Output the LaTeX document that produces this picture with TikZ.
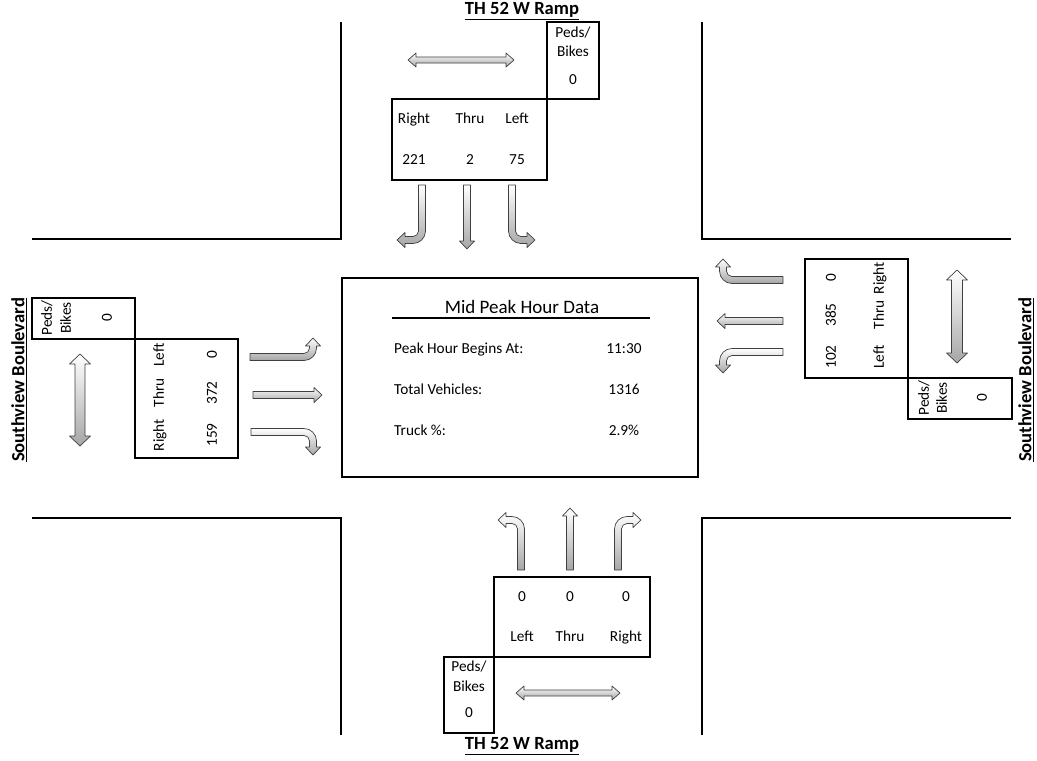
\documentclass[tikz,border=0pt]{standalone}
\usepackage{fontspec}
\setmainfont{Carlito}
\def\aw{3.5}\def\ah{7.5}\def\aL{8}\def\ar{9}
\def\kA{3.04}\def\kB{6.9}
\newcommand\turnarrow[3]{%
 \begin{scope}[#1]
  \path[fat] (-\aw,0) -- (-\aw,#2-\ar) .. controls (-\aw,#2-\ar+\kA) and (-\ar+\kA,#2-\aw) .. (-\ar,#2-\aw) -- (-#3+\aL,#2-\aw) -- (-#3+\aL,#2-\ah) -- (-#3,#2) -- (-#3+\aL,#2+\ah) -- (-#3+\aL,#2+\aw) -- (-\ar,#2+\aw) .. controls (-\ar+\kB,#2+\aw) and (\aw,#2-\ar+\kB) .. (\aw,#2-\ar) -- (\aw,0) -- cycle;
 \end{scope}}
\newcommand\strarrow[2]{%
 \begin{scope}[#1]
  \path[fat] (-\aw,0) -- (-\aw,#2-\aL) -- (-\ah,#2-\aL) -- (0,#2) -- (\ah,#2-\aL) -- (\aw,#2-\aL) -- (\aw,0) -- cycle;
 \end{scope}}
\newcommand\dblarrow[5]{%
 \begin{scope}[#1]
  \path[fat] (-#3,#5) -- (-#4,#5) -- (0,0) -- (#4,#5) -- (#3,#5) -- (#3,#2-#5) -- (#4,#2-#5) -- (0,#2) -- (-#4,#2-#5) -- (-#3,#2-#5) -- cycle;
 \end{scope}}
\begin{document}
\begin{tikzpicture}[x=1pt,y=-1pt,
  road/.style={line width=2pt},
  box/.style={draw, line width=2pt},
  txt/.style={font=\fontsize{15.3}{17}\selectfont, inner sep=0pt, text height=10pt, text depth=2.5pt},
  big/.style={font=\fontsize{19}{22}\selectfont, inner sep=0pt},
  lbl/.style={font=\fontsize{18.6}{21}\selectfont\bfseries, inner sep=0pt},
  fat/.style={draw=black!75, line width=0.7pt, top color=white, bottom color=black!35, line join=round}]
\useasboundingbox (0,0) rectangle (1037,761);
% roads
\draw[road] (32,239) -- (341,239) -- (341,22);
\draw[road] (702,22) -- (702,239) -- (1011,239);
\draw[road] (32,518) -- (341,518) -- (341,735);
\draw[road] (702,735) -- (702,518) -- (1011,518);
% boxes
\draw[box] (392,99) rectangle (547,180);
\draw[box] (547,22) rectangle (599,99);
\draw[box] (494,577) rectangle (650,657);
\draw[box] (444,657) rectangle (494,733);
\draw[box] (135,339) rectangle (238,458);
\draw[box] (32,298) rectangle (135,339);
\draw[box] (805,259) rectangle (908,378);
\draw[box] (908,378) rectangle (1012,419);
\draw[box] (342,278) rectangle (698,477);
% top
\node[txt] (tR) at (414,120) {Right};
\node[txt] (tT) at (470,120) {Thru};
\node[txt] (tL) at (517,120) {Left};
\node[txt] (tRn) at (414,161) {221};
\node[txt] (tTn) at (470,161) {2};
\node[txt] (tLn) at (517,161) {75};
\node[txt] (tP1) at (573,34) {Peds/};
\node[txt] (tP2) at (573,53) {Bikes};
\node[txt] (tP0) at (573,81) {0};
% bottom
\node[txt] (bLn) at (522,598) {0};
\node[txt] (bTn) at (570,598) {0};
\node[txt] (bRn) at (626,598) {0};
\node[txt] (bL) at (522,638) {Left};
\node[txt] (bT) at (570,638) {Thru};
\node[txt] (bR) at (626,638) {Right};
\node[txt] (bP1) at (469,668) {Peds/};
\node[txt] (bP2) at (469,688) {Bikes};
\node[txt] (bP0) at (469,714) {0};
% left
\node[txt,rotate=90] (lL) at (160,355) {Left};
\node[txt,rotate=90] (lT) at (160,393) {Thru};
\node[txt,rotate=90] (lR) at (160,435) {Right};
\node[txt,rotate=90] (lLn) at (213,355) {0};
\node[txt,rotate=90] (lTn) at (213,393) {372};
\node[txt,rotate=90] (lRn) at (213,435) {159};
\node[txt,rotate=90] (lP1) at (48,318) {Peds/};
\node[txt,rotate=90] (lP2) at (67,318) {Bikes};
\node[txt,rotate=90] (lP0) at (108,318) {0};
% right
\node[txt,rotate=90] (rRn) at (832,278) {0};
\node[txt,rotate=90] (rTn) at (832,315) {385};
\node[txt,rotate=90] (rLn) at (832,357) {102};
\node[txt,rotate=90] (rR) at (880,278) {Right};
\node[txt,rotate=90] (rT) at (880,315) {Thru};
\node[txt,rotate=90] (rL) at (880,357) {Left};
\node[txt,rotate=90] (rP1) at (925,398) {Peds/};
\node[txt,rotate=90] (rP2) at (943,398) {Bikes};
\node[txt,rotate=90] (rP0) at (983,398) {0};
% centre
\node[big] (ctitle) at (522,307) {Mid Peak Hour Data};
\draw[line width=1.5pt] (392,318) -- (650,318);
\node[txt,anchor=west] (c1) at (394,350) {Peak Hour Begins At:};
\node[txt,anchor=west] (c2) at (394,391) {Total Vehicles:};
\node[txt,anchor=west] (c3) at (394,432) {Truck \%:};
\node[txt] (v1) at (624,350) {11:30};
\node[txt] (v2) at (624,391) {1316};
\node[txt] (v3) at (624,432) {2.9\%};
% street labels
\node[lbl] (ntop) at (522,11) {\underline{TH 52 W Ramp}};
\node[lbl] (nbot) at (522,746) {\underline{TH 52 W Ramp}};
\node[lbl,rotate=90] (nleft) at (19,380) {\underline{Southview Boulevard}};
\node[lbl,rotate=90] (nright) at (1026,380) {\underline{Southview Boulevard}};
% movement arrows: top
\turnarrow{shift={(422,185)}}{55}{25}
\strarrow{shift={(467,185)}}{64}
\turnarrow{shift={(512,185)},xscale=-1}{55}{23}
% bottom
\turnarrow{shift={(521,570)},rotate=180,xscale=-1}{50}{23}
\strarrow{shift={(570,570)},rotate=180}{62}
\turnarrow{shift={(618,570)},rotate=180}{50}{23}
% left
\turnarrow{shift={(250,357)},rotate=90,xscale=-1}{63}{19}
\strarrow{shift={(253,395)},rotate=90}{69}
\turnarrow{shift={(251,432)},rotate=90}{62}{23}
% right
\turnarrow{shift={(783,280)},rotate=-90}{60}{21}
\strarrow{shift={(783,321)},rotate=-90}{66}
\turnarrow{shift={(783,352)},rotate=-90,xscale=-1}{60}{21}
% ped arrows
\dblarrow{shift={(408,60)},rotate=90}{106}{3}{7}{8}
\dblarrow{shift={(516,693)},rotate=90}{104}{3}{7}{8}
\dblarrow{shift={(80,354)}}{92}{5}{10.5}{10}
\dblarrow{shift={(957,270)}}{93}{5.5}{10.5}{10}
\end{tikzpicture}
\end{document}
